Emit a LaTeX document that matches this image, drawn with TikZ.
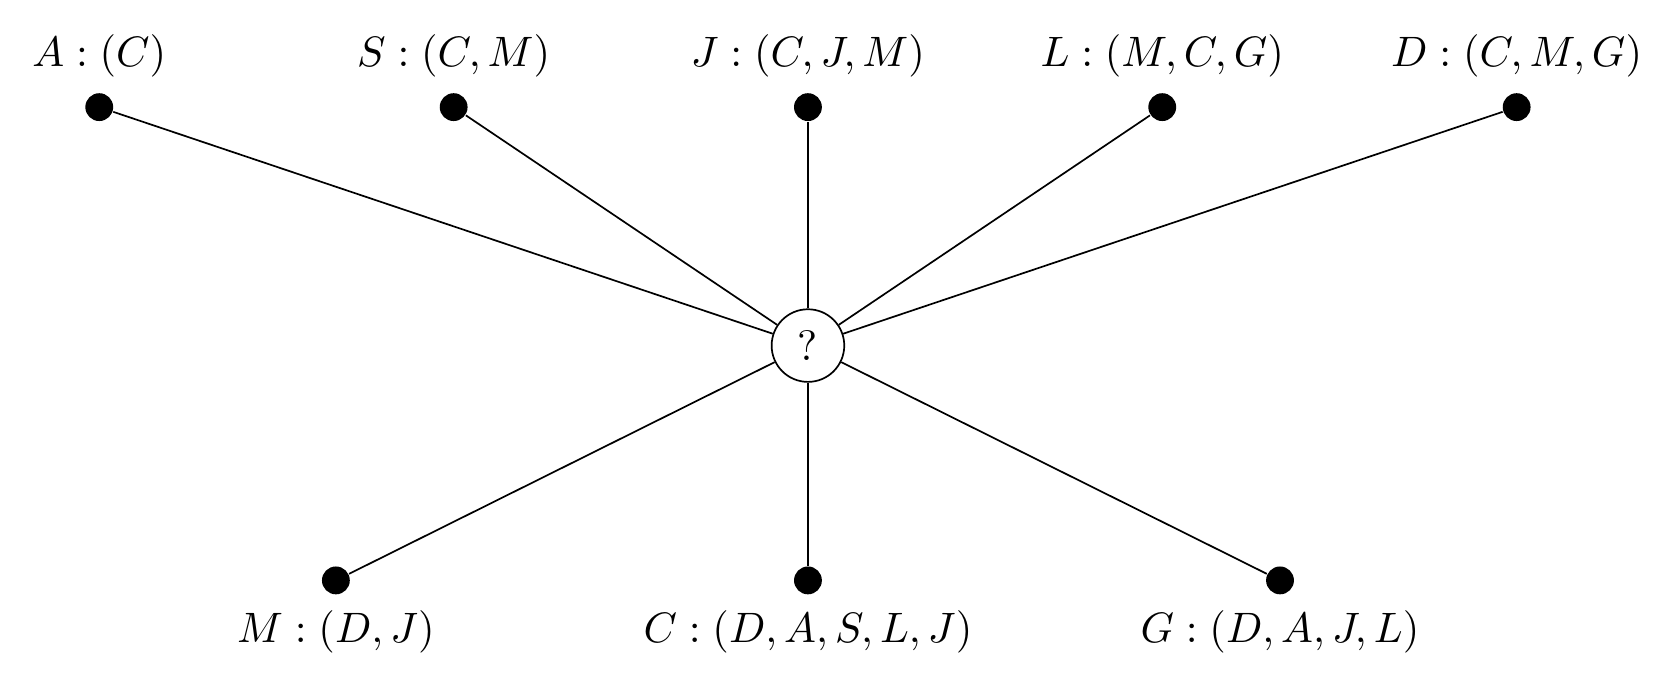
\documentclass[tikz,border=0pt]{standalone}
\usetikzlibrary{positioning}
\begin{document}
\begin{tikzpicture}[dot/.style={circle, fill=black, inner sep=0pt, minimum size=.23cm},
hub/.style={circle, draw, inner sep=0pt, minimum size=.6cm}]
\useasboundingbox (-6.675,-2.806) rectangle (7.155,2.855);

\node[hub] (q) at (0,0) {?};

\node[dot, label={[label distance=0pt]above:$A:(C)$}] (A) at (-5.855,1.97) {};
\node[dot, label={[label distance=0pt]above:$S:(C,M)$}] (S) at (-2.927,1.97) {};
\node[dot, label={[label distance=0pt]above:$J:(C,J,M)$}] (J) at (0,1.97) {};
\node[dot, label={[label distance=0pt]above:$L:(M,C,G)$}] (L) at (2.927,1.97) {};
\node[dot, label={[label distance=0pt]above:$D:(C,M,G)$}] (D) at (5.855,1.97) {};

\node[dot, label={[label distance=0pt]below:$M:(D,J)$}] (M) at (-3.90,-1.94) {};
\node[dot, label={[label distance=0pt]below:$C:(D,A,S,L,J)$}] (C) at (0,-1.94) {};
\node[dot, label={[label distance=0pt]below:$G:(D,A,J,L)$}] (G) at (3.90,-1.94) {};

\foreach \v in {A,S,J,L,D,M,C,G}
  \draw (q) -- (\v);
\end{tikzpicture}
\end{document}
